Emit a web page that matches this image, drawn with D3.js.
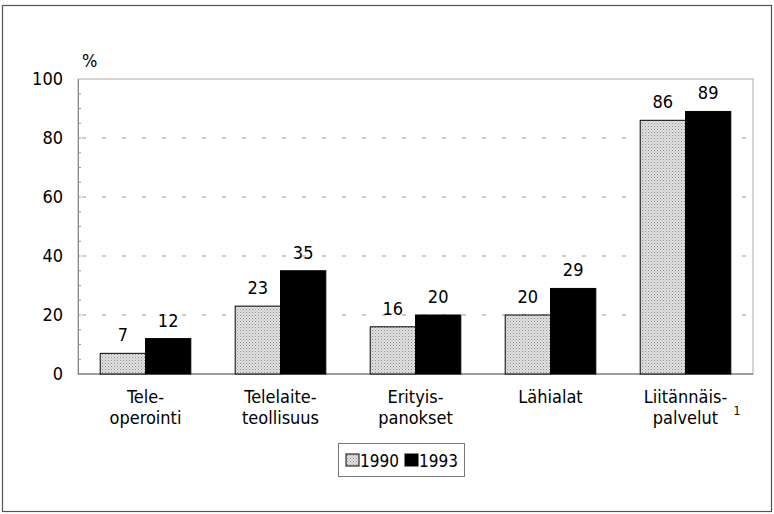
<!DOCTYPE html>
<html lang="fi">
<head>
<meta charset="UTF-8">
<script src="https://d3js.org/d3.v7.min.js"></script>
<style>
  body { margin: 0; background: #fff; }
  svg { display: block; font-family: "DejaVu Sans Condensed", "DejaVu Sans", sans-serif; font-stretch: condensed; }
  .tick text { font-size: 18px; fill: #000; }
  .lbl { font-size: 18px; fill: #000; }
</style>
</head>
<body>
<svg width="774" height="514"></svg>
<script>
// Data
const categories = [["Tele-", "operointi"], ["Telelaite-", "teollisuus"], ["Erityis-", "panokset"], ["Lähialat"], ["Liitännäis-", "palvelut"]];
const footnotes = ["", "", "", "", "1"];
const years = ["1990", "1993"];
const values1990 = [7, 23, 16, 20, 86];
const values1993 = [12, 35, 20, 29, 89];
const yTicks = [0, 20, 40, 60, 80, 100];

const width = 774, height = 514;
const margin = {top: 79, right: 21, bottom: 140, left: 78};
const svg = d3.select("svg");

// pattern for 1990 bars
const defs = svg.append("defs");
const pat = defs.append("pattern").attr("id", "dots")
    .attr("width", 3).attr("height", 3).attr("patternUnits", "userSpaceOnUse");
pat.append("rect").attr("width", 3).attr("height", 3).attr("fill", "#e2e2e2");
pat.append("rect").attr("width", 1).attr("height", 1).attr("fill", "#8a8a8a");
pat.append("rect").attr("x", 1.5).attr("y", 1.5).attr("width", 1).attr("height", 1).attr("fill", "#a8a8a8");

// outer frame
svg.append("rect").attr("x", 2.5).attr("y", 5.5).attr("width", 769).attr("height", 506)
    .attr("fill", "none").attr("stroke", "#555").attr("stroke-width", 1.2);

const x = d3.scaleBand().domain(d3.range(categories.length))
    .range([margin.left, width - margin.right]).paddingInner(0).paddingOuter(0);
const xSub = d3.scaleBand().domain(years).range([0, x.bandwidth()]).paddingInner(0).paddingOuter(0.49);
const y = d3.scaleLinear().domain([0, 100]).range([height - margin.bottom, margin.top]);

// plot border
svg.append("rect").attr("x", margin.left).attr("y", y(100))
    .attr("width", width - margin.right - margin.left).attr("height", y(0) - y(100))
    .attr("fill", "none").attr("stroke", "#aaa").attr("stroke-width", 1);

// dashed gridlines
svg.append("g").selectAll("line").data(yTicks.filter(d => d > 0 && d < 100)).join("line")
    .attr("x1", margin.left + 4).attr("x2", width - margin.right)
    .attr("y1", d => y(d)).attr("y2", d => y(d))
    .attr("stroke", "#999").attr("stroke-dasharray", "4,16");

// minor ticks inside on left
svg.append("g").selectAll("line").data(d3.range(5, 100, 5)).join("line")
    .attr("x1", margin.left).attr("x2", margin.left + 3)
    .attr("y1", d => y(d)).attr("y2", d => y(d))
    .attr("stroke", "#999");

// y axis
const yAxis = svg.append("g").attr("transform", `translate(${margin.left},0)`)
    .call(d3.axisLeft(y).tickValues(yTicks).tickSize(0).tickPadding(15));
yAxis.select(".domain").attr("stroke", "#888");
yAxis.attr("font-family", null).attr("font-size", null);

svg.append("text").attr("class", "lbl").attr("x", 82).attr("y", 67).text("%");

// x baseline
svg.append("line").attr("x1", margin.left).attr("x2", width - margin.right)
    .attr("y1", y(0)).attr("y2", y(0)).attr("stroke", "#666");

// bars
const series = [
  {year: "1990", vals: values1990, fill: "url(#dots)"},
  {year: "1993", vals: values1993, fill: "#000"}
];
series.forEach(s => {
  const g = svg.append("g");
  g.selectAll("rect").data(s.vals).join("rect")
    .attr("x", (d, i) => x(i) + xSub(s.year))
    .attr("y", d => y(d))
    .attr("width", xSub.bandwidth())
    .attr("height", d => y(0) - y(d))
    .attr("fill", s.fill).attr("stroke", "#000").attr("stroke-width", 1);
  g.selectAll("text").data(s.vals).join("text").attr("class", "lbl")
    .attr("x", (d, i) => x(i) + xSub(s.year) + xSub.bandwidth() / 2)
    .attr("y", d => y(d) - 12)
    .attr("text-anchor", "middle")
    .text(d => d);
});

// category labels
const cat = svg.append("g").selectAll("text").data(categories).join("text")
    .attr("class", "lbl").attr("text-anchor", "middle")
    .attr("x", (d, i) => x(i) + x.bandwidth() / 2)
    .attr("y", 403);
cat.each(function(d, i) {
  const t = d3.select(this);
  const cx = x(i) + x.bandwidth() / 2;
  d.forEach((line, j) => {
    t.append("tspan").attr("x", cx).attr("dy", j === 0 ? 0 : 21).text(line);
  });
});
// footnote markers
svg.append("g").selectAll("text").data(footnotes).join("text")
    .attr("class", "lbl").style("font-size", "12px")
    .attr("x", (d, i) => x(i) + x.bandwidth() / 2 + 48)
    .attr("y", 415)
    .text(d => d);

// legend
const lg = svg.append("g").attr("transform", "translate(338,443)");
lg.append("rect").attr("x", 0.5).attr("y", 0.5).attr("width", 126).attr("height", 33)
    .attr("fill", "#fff").attr("stroke", "#777");
const legendItems = [{year: "1990", fill: "url(#dots)", x: 8}, {year: "1993", fill: "#000", x: 67}];
legendItems.forEach(it => {
  lg.append("rect").attr("x", it.x).attr("y", 11).attr("width", 13).attr("height", 12)
    .attr("fill", it.fill).attr("stroke", "#000");
  lg.append("text").attr("class", "lbl").style("font-size", "17px")
    .attr("x", it.x + 14).attr("y", 24).text(it.year);
});
</script>
</body>
</html>
